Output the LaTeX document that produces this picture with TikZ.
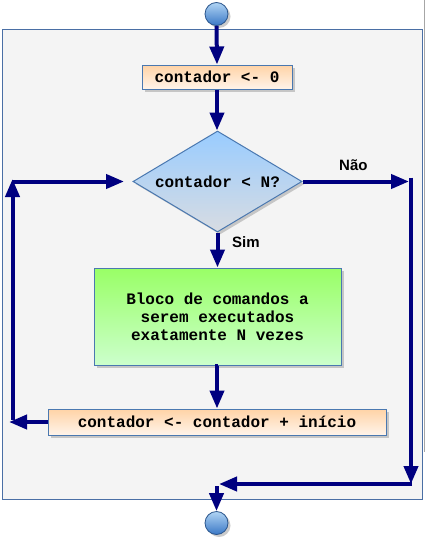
\documentclass[tikz,border=0pt]{standalone}
\usepackage{fontspec}
\setmainfont{Liberation Sans}
\newfontfamily\monob{Liberation Mono}
\usetikzlibrary{shapes.geometric,arrows.meta,shadows}
\definecolor{arrowc}{HTML}{000080}
\definecolor{edgec}{HTML}{4A78B0}
\definecolor{panelc}{HTML}{F4F4F4}
\definecolor{panelb}{HTML}{4A6FA5}
\definecolor{orangetop}{HTML}{FFD3A6}
\definecolor{orangebot}{HTML}{FFF4EA}
\definecolor{bluetop}{HTML}{99CCFF}
\definecolor{bluebot}{HTML}{D8DCE2}
\definecolor{greentop}{HTML}{99FF66}
\definecolor{greenbot}{HTML}{CCFFCC}
\definecolor{balltop}{HTML}{B0D4F4}
\definecolor{ballbot}{HTML}{3A78C6}
\begin{document}
\begin{tikzpicture}[x=1pt,y=-1pt,
  conn/.style={draw=arrowc, line width=4pt, -{Triangle[length=18pt,width=14pt]}},
  shad/.style={drop shadow={shadow xshift=2.5pt,shadow yshift=-2.5pt,fill=black!40}},
  txt/.style={font=\monob\bfseries\fontsize{16}{18}\selectfont, text=black},
  stepbox/.style={rectangle, draw=edgec, line width=1pt, inner sep=0pt, shad, txt, align=center},
  orangebox/.style={stepbox, top color=orangetop, bottom color=orangebot},
  greenbox/.style={stepbox, top color=greentop, bottom color=greenbot},
  decision/.style={diamond, aspect=1.65, draw=edgec, line width=1pt, inner sep=0pt, shad, txt, top color=bluetop, bottom color=bluebot},
  ball/.style={circle, draw=ballbot!70!black, line width=0.8pt, minimum size=23pt, inner sep=0pt, top color=balltop, bottom color=ballbot, shad},
  lab/.style={font=\bfseries\fontsize{15}{17}\selectfont, text=black, inner sep=0pt}
]
\useasboundingbox (0,0) rectangle (425,538);
\fill[white] (0,0) rectangle (425,538);
\draw[gray!70, line width=1pt] (424,0) -- (424,452);
\draw[panelb, fill=panelc, line width=1pt] (2,29) rectangle (422,499);

\node[ball] (start) at (216.5,14) {};
\node[orangebox, minimum width=150pt, minimum height=24pt] (b1) at (217,77) {contador <- 0};
\node[decision, minimum width=169pt, minimum height=101pt] (dec) at (217.5,181.5) {contador < N?};
\node[greenbox, minimum width=247pt, minimum height=97pt] (b2) at (217.5,316.5) {Bloco de comandos a\\serem executados\\exatamente N vezes};
\node[orangebox, minimum width=338pt, minimum height=26pt] (b3) at (217,422) {contador <- contador + início};
\node[ball] (end) at (216.5,523) {};

\node[lab, anchor=base west] (nao) at (339,170.5) {Não};
\node[lab, anchor=base west] (sim) at (232,247.5) {Sim};

\coordinate (r1) at (411,181.5);
\coordinate (r1t) at (411,177.5);
\coordinate (r2) at (411,484);
\coordinate (r3) at (219,484);
\coordinate (m1) at (216.5,486);
\coordinate (l1) at (9,422);
\coordinate (l1t) at (12.5,420);
\coordinate (l2) at (12.5,179);
\coordinate (l2t) at (12.5,181.5);
\coordinate (l3) at (124,181.5);

\draw[conn] (start.south) -- (b1.north);
\draw[conn] (b1.south) -- (b1.south |- dec.north);
\draw[conn] (dec.south) -- (dec.south |- b2.north);
\draw[conn] (b2.south) -- (b2.south -| b3.north) -- (b3.north);
\draw[conn] (dec.east) -- ([xshift=-2pt]r1);
\draw[conn] (r1t) -- (r2);
\draw[conn] ([xshift=1pt]r2) -- (r3);
\draw[conn] (m1) -- (end.north);
\draw[conn] (b3.west) -- (l1);
\draw[conn] (l1t) -- (l2);
\draw[conn] (l2t) -- (l3);
\end{tikzpicture}
\end{document}
